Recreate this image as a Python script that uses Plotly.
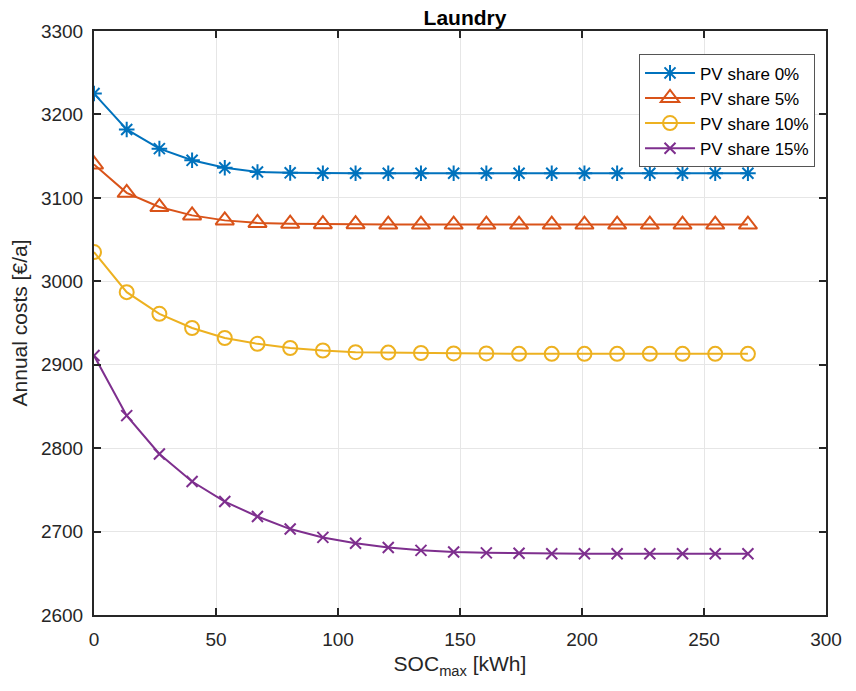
import plotly.graph_objects as go

soc_max = [0, 13.4, 26.8, 40.2, 53.6, 67.0, 80.4, 93.8, 107.2, 120.6, 134.0,
           147.4, 160.8, 174.2, 187.6, 201.0, 214.4, 227.8, 241.2, 254.6, 268.0]

pv0 = [3225, 3182, 3159, 3145, 3136, 3131, 3130, 3129.5, 3129.5, 3129.5, 3129.5,
       3129.5, 3129.5, 3129.5, 3129.5, 3129.5, 3129.5, 3129.5, 3129.5, 3129.5, 3129.5]
pv5 = [3140, 3106, 3089, 3079, 3073, 3070, 3069, 3068.5, 3068.5, 3068, 3068,
       3068, 3068, 3068, 3068, 3068, 3068, 3068, 3068, 3068, 3068]
pv10 = [3035, 2987, 2961, 2944, 2932, 2925, 2920, 2917, 2915, 2914.5, 2914,
        2913.5, 2913.5, 2913, 2913, 2913, 2913, 2913, 2913, 2913, 2913]
pv15 = [2911, 2839, 2793, 2760, 2736, 2718, 2703, 2693, 2686, 2681, 2677.5,
        2675.5, 2674.5, 2674, 2673.5, 2673.5, 2673.5, 2673.5, 2673.5, 2673.5, 2673.5]

names = ["PV share 0%", "PV share 5%", "PV share 10%", "PV share 15%"]
colors = ["#0072BD", "#D95319", "#EDB120", "#7E2F8E"]
symbols = ["asterisk-open", "triangle-up-open", "circle-open", "x-thin-open"]
sizes = [13, 16, 14, 11]

FONT = "Liberation Sans, Arial, sans-serif"

fig = go.Figure()
for ys, nm, c, s, sz in zip([pv0, pv5, pv10, pv15], names, colors, symbols, sizes):
    fig.add_trace(go.Scatter(
        x=soc_max, y=ys, name=nm, mode="lines+markers",
        line=dict(color=c, width=2),
        marker=dict(symbol=s, size=sz, color=c, line=dict(color=c, width=2)),
    ))

axis_common = dict(
    showline=True, linecolor="#262626", linewidth=2, mirror="ticks",
    ticks="inside", ticklen=7, tickwidth=2, tickcolor="#262626",
    showgrid=True, gridcolor="#e6e6e6", gridwidth=1, zeroline=False,
    tickfont=dict(family=FONT, size=19, color="#262626"),
)

fig.update_layout(
    width=856, height=691,
    margin=dict(l=94, r=30, t=31, b=76),
    paper_bgcolor="white", plot_bgcolor="white",
    font=dict(family=FONT, color="#262626"),
    title=dict(text="<b>Laundry</b>", x=(465 / 856), xanchor="center",
               y=1 - 18 / 691, yanchor="middle",
               font=dict(family=FONT, size=21, color="black")),
    xaxis=dict(range=[0, 300], dtick=50, tick0=0, ticklabelstandoff=6,
               title=dict(text="SOC<sub>max</sub> [kWh]", standoff=8,
                          font=dict(family=FONT, size=21, color="#262626")),
               **axis_common),
    yaxis=dict(range=[2600, 3300], dtick=100, tick0=2600, ticklabelstandoff=5,
               title=dict(text="Annual costs [€/a]", standoff=8,
                          font=dict(family=FONT, size=21, color="#262626")),
               **axis_common),
    legend=dict(x=0.985, xanchor="right", y=0.96, yanchor="top",
                bgcolor="white", bordercolor="#555555", borderwidth=1,
                font=dict(family=FONT, size=17, color="black"),
                tracegroupgap=0, itemwidth=50),
    showlegend=True,
)

fig.write_html("out.html")
